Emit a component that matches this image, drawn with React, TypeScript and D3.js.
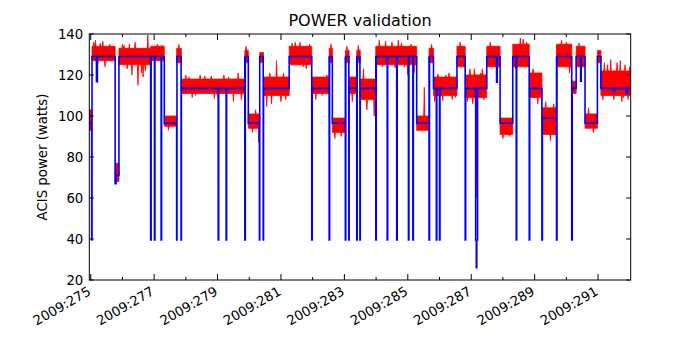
import React from 'react';
import * as d3 from 'd3';

// day-of-year ticks (2009)
const majorDays = [275, 277, 279, 281, 283, 285, 287, 289, 291];
const minorDays = [276, 278, 280, 282, 284, 286, 288, 290];
const yTicks = [20, 40, 60, 80, 100, 120, 140];

// model (blue): level changes as [day, watts]
const modelLevels: [number, number][] = [
  [274.955, 96.5], [275.04, 129], [275.18, 116.7], [275.21, 129],
  [275.77, 67], [275.8, 71], [275.89, 129], [277.32, 96.5],
  [277.72, 129], [277.86, 113.5], [279.86, 129], [279.97, 96.5],
  [280.33, 129], [280.45, 113.5], [281.26, 129], [281.97, 113.5],
  [282.52, 129], [282.62, 96.5], [283.03, 129], [283.15, 113.5],
  [283.39, 129], [283.5, 113.5], [283.99, 129], [285.28, 96.5],
  [285.67, 129], [285.81, 113.5], [286.55, 129], [286.81, 113.5],
  [287.14, 39.5], [287.16, 26], [287.175, 39.5], [287.2, 113.5],
  [287.49, 129], [287.8, 116.5], [287.82, 129], [287.91, 96.5],
  [288.31, 129], [288.83, 113.5], [289.23, 99], [289.69, 129],
  [290.17, 113.5], [290.31, 129], [290.45, 117], [290.47, 129],
  [290.59, 96.5], [290.98, 129], [291.09, 113.5], [291.49, 112],
  [291.52, 113.5], [291.9, 111], [291.93, 113.5],
];

// short model dips down to the floor
const dipDays = [
  275.03, 276.89, 277.01, 277.22, 277.71, 277.85, 279.02, 279.27,
  279.86, 280.32, 280.44, 281.97, 282.52, 283.03, 283.14, 283.39,
  283.49, 283.99, 284.35, 284.65, 285.02, 285.16, 285.67, 285.9,
  286.0, 286.81, 288.42, 288.83, 289.23, 289.69, 290.17,
];
const dipFloor = 39.5;

// measured (red): [start day, end day, low watts, high watts]
const measuredBands: [number, number, number, number][] = [
  [274.955, 275.04, 93, 103], [275.04, 275.77, 127, 134],
  [275.77, 275.89, 68, 77], [275.89, 276.89, 125, 133],
  [276.89, 277.32, 127, 134], [277.32, 277.71, 95, 100],
  [277.71, 277.86, 126, 133], [277.86, 279.86, 111, 118],
  [279.86, 279.97, 126, 132], [279.97, 280.33, 94, 101],
  [280.33, 280.45, 126, 131], [280.45, 281.26, 110, 119],
  [281.26, 281.97, 125, 134], [281.97, 282.52, 111, 119],
  [282.52, 282.62, 126, 133], [282.62, 283.03, 92, 99],
  [283.03, 283.15, 126, 132], [283.15, 283.39, 111, 119],
  [283.39, 283.5, 126, 132], [283.5, 283.99, 108, 118],
  [283.99, 285.28, 125, 134], [285.28, 285.67, 93, 100],
  [285.67, 285.81, 126, 133], [285.81, 286.55, 110, 119],
  [286.55, 286.81, 124, 134], [286.81, 287.49, 109, 120],
  [287.49, 287.91, 124, 134], [287.91, 288.31, 91, 99],
  [288.31, 288.83, 124, 135], [288.83, 289.23, 109, 121],
  [289.23, 289.69, 91, 104], [289.69, 290.17, 124, 135],
  [290.17, 290.31, 111, 117], [290.31, 290.59, 124, 134],
  [290.59, 290.98, 94, 101], [290.98, 291.09, 126, 132],
  [291.09, 292.03, 110, 122],
];

// measured excursions outside the band: [day, watts]
const measuredSpikes: [number, number][] = [
  [275.1, 136], [275.15, 137], [275.22, 125], [275.3, 135.5],
  [275.38, 136.5], [275.45, 124], [275.6, 135], [276.0, 135],
  [276.05, 134.5], [276.15, 123], [276.22, 135], [276.3, 120],
  [276.4, 136], [276.49, 115], [276.6, 121], [276.65, 119],
  [276.72, 122], [276.8, 139.5], [277.1, 135], [277.25, 134.5],
  [277.45, 93], [277.78, 135], [278.0, 120], [278.1, 119],
  [278.2, 109], [278.3, 110], [278.45, 120], [278.6, 119.5],
  [278.8, 119.5], [278.9, 108.5], [279.0, 109], [279.2, 120],
  [279.35, 119], [279.5, 107], [279.65, 121], [279.75, 108],
  [279.9, 134], [280.1, 92], [280.2, 103], [280.3, 87],
  [280.55, 104.5], [280.65, 121], [280.7, 106], [280.86, 127],
  [281.0, 107], [281.08, 121], [281.15, 108], [281.35, 135.5],
  [281.45, 136], [281.6, 136], [281.7, 124], [281.8, 123],
  [281.9, 135], [282.1, 108], [282.3, 110], [282.45, 120],
  [282.58, 135], [282.7, 89], [282.9, 90], [283.08, 134],
  [283.25, 107], [283.44, 134.5], [283.6, 123], [283.71, 103],
  [283.94, 100], [284.1, 137], [284.2, 124], [284.3, 136.5],
  [284.5, 136], [284.6, 123.5], [284.7, 137], [284.8, 135.5],
  [284.9, 124], [285.0, 120], [285.1, 135], [285.2, 121],
  [285.52, 114], [285.75, 135], [285.85, 107], [285.95, 120.5],
  [286.1, 107.5], [286.2, 120], [286.3, 121], [286.4, 108],
  [286.5, 109], [286.65, 136], [286.88, 107], [286.96, 123],
  [287.05, 106], [287.1, 123], [287.16, 60], [287.3, 121],
  [287.35, 123], [287.4, 108], [287.6, 136], [288.0, 89],
  [288.2, 90], [288.4, 123], [288.55, 138], [288.64, 137.5],
  [288.75, 136], [288.95, 123], [289.1, 106], [289.35, 107],
  [289.5, 88], [289.6, 106], [289.85, 137], [290.0, 136],
  [290.1, 121], [290.4, 135.5], [290.7, 104], [290.85, 92],
  [291.15, 108], [291.2, 126], [291.3, 125], [291.4, 127.5],
  [291.5, 108], [291.6, 126], [291.7, 127], [291.75, 107],
  [291.8, 109], [291.85, 125], [291.95, 108], [292.0, 124],
];

const width = 700;
const height = 350;
const margin = { top: 34, right: 69.3, bottom: 70, left: 89.3 };
const font = 'DejaVu Sans, sans-serif';

const App = () => {
  const x = d3.scaleLinear()
    .domain([274.955, 292.03])
    .range([margin.left, width - margin.right]);
  const y = d3.scaleLinear()
    .domain([20, 140])
    .range([height - margin.bottom, margin.top]);

  const [x0, x1] = x.range();
  const [y0, y1] = y.range();

  // level in force at a given day
  const levelAt = (d: number) => {
    let v = modelLevels[0][1];
    modelLevels.forEach(([day, w]) => { if (day <= d) v = w; });
    return v;
  };

  // build the step series: levels plus the short dips
  const steps: [number, number][] = [...modelLevels];
  dipDays.forEach(d => {
    steps.push([d, dipFloor]);
    steps.push([d + 0.015, levelAt(d + 0.015)]);
  });
  steps.sort((a, b) => a[0] - b[0]);
  steps.push([292.03, steps[steps.length - 1][1]]);

  const modelLine = d3.line<[number, number]>()
    .x(d => x(d[0]))
    .y(d => y(d[1]))
    .curve(d3.curveStepAfter);

  // each band becomes a polygon with the spikes pulled out of its edges
  const half = 0.018;
  const outline = d3.line<[number, number]>().x(d => x(d[0])).y(d => y(d[1]));
  const bandPath = (b: [number, number, number, number]) => {
    const [d0, d1, lo, hi] = b;
    const mid = (lo + hi) / 2;
    const inside = measuredSpikes.filter(s => s[0] > d0 && s[0] < d1);
    const top: [number, number][] = [[d0, hi]];
    inside.filter(s => s[1] > mid).forEach(([d, v]) => {
      top.push([d - half, hi], [d, v], [d + half, hi]);
    });
    top.push([d1, hi]);
    const bottom: [number, number][] = [[d1, lo]];
    inside.filter(s => s[1] <= mid).reverse().forEach(([d, v]) => {
      bottom.push([d + half, lo], [d, v], [d - half, lo]);
    });
    bottom.push([d0, lo]);
    return (outline([...top, ...bottom]) || '') + 'Z';
  };

  return (
    <svg width={width} height={height}
      style={{ position: 'absolute', left: 0, top: 0, background: '#fff' }}>
      <defs>
        <clipPath id="plot">
          <rect x={x0} y={y1} width={x1 - x0} height={y0 - y1} />
        </clipPath>
      </defs>

      <g clipPath="url(#plot)">
        {measuredBands.map((b, i) => (
          <path key={'b' + i} d={bandPath(b)} fill="#ff0000"
            stroke="#ff0000" strokeWidth={0.8} strokeLinejoin="round" />
        ))}
        <path d={modelLine(steps) || ''} fill="none" stroke="#0000ff" strokeWidth={1.6} />
      </g>

      {/* frame */}
      <rect x={x0} y={y1} width={x1 - x0} height={y0 - y1}
        fill="none" stroke="#000" strokeWidth={1} />

      {/* x ticks, inward on bottom and top */}
      {majorDays.map(d => (
        <g key={'mx' + d}>
          <line x1={x(d)} x2={x(d)} y1={y0} y2={y0 - 6} stroke="#000" />
          <line x1={x(d)} x2={x(d)} y1={y1} y2={y1 + 6} stroke="#000" />
          <text transform={`translate(${x(d) + 1},${y0 + 14}) rotate(-30)`}
            textAnchor="end" fontFamily={font} fontSize={13.3}>
            {`2009:${d}`}
          </text>
        </g>
      ))}
      {minorDays.map(d => (
        <g key={'nx' + d}>
          <line x1={x(d)} x2={x(d)} y1={y0} y2={y0 - 3} stroke="#000" />
          <line x1={x(d)} x2={x(d)} y1={y1} y2={y1 + 3} stroke="#000" />
        </g>
      ))}

      {/* y ticks */}
      {yTicks.map(v => (
        <g key={'y' + v}>
          <line x1={x0} x2={x0 + 4.5} y1={y(v)} y2={y(v)} stroke="#000" />
          <line x1={x1} x2={x1 - 4.5} y1={y(v)} y2={y(v)} stroke="#000" />
          <text x={x0 - 6} y={y(v)} dy="0.36em" textAnchor="end"
            fontFamily={font} fontSize={13.3}>{v}</text>
        </g>
      ))}

      <text transform={`translate(46.5,${(y0 + y1) / 2}) rotate(-90)`}
        textAnchor="middle" fontFamily={font} fontSize={13.3}>
        ACIS power (watts)
      </text>

      <text x={(x0 + x1) / 2} y={y1 - 8} textAnchor="middle"
        fontFamily={font} fontSize={16}>
        POWER validation
      </text>
    </svg>
  );
};

export default App;
